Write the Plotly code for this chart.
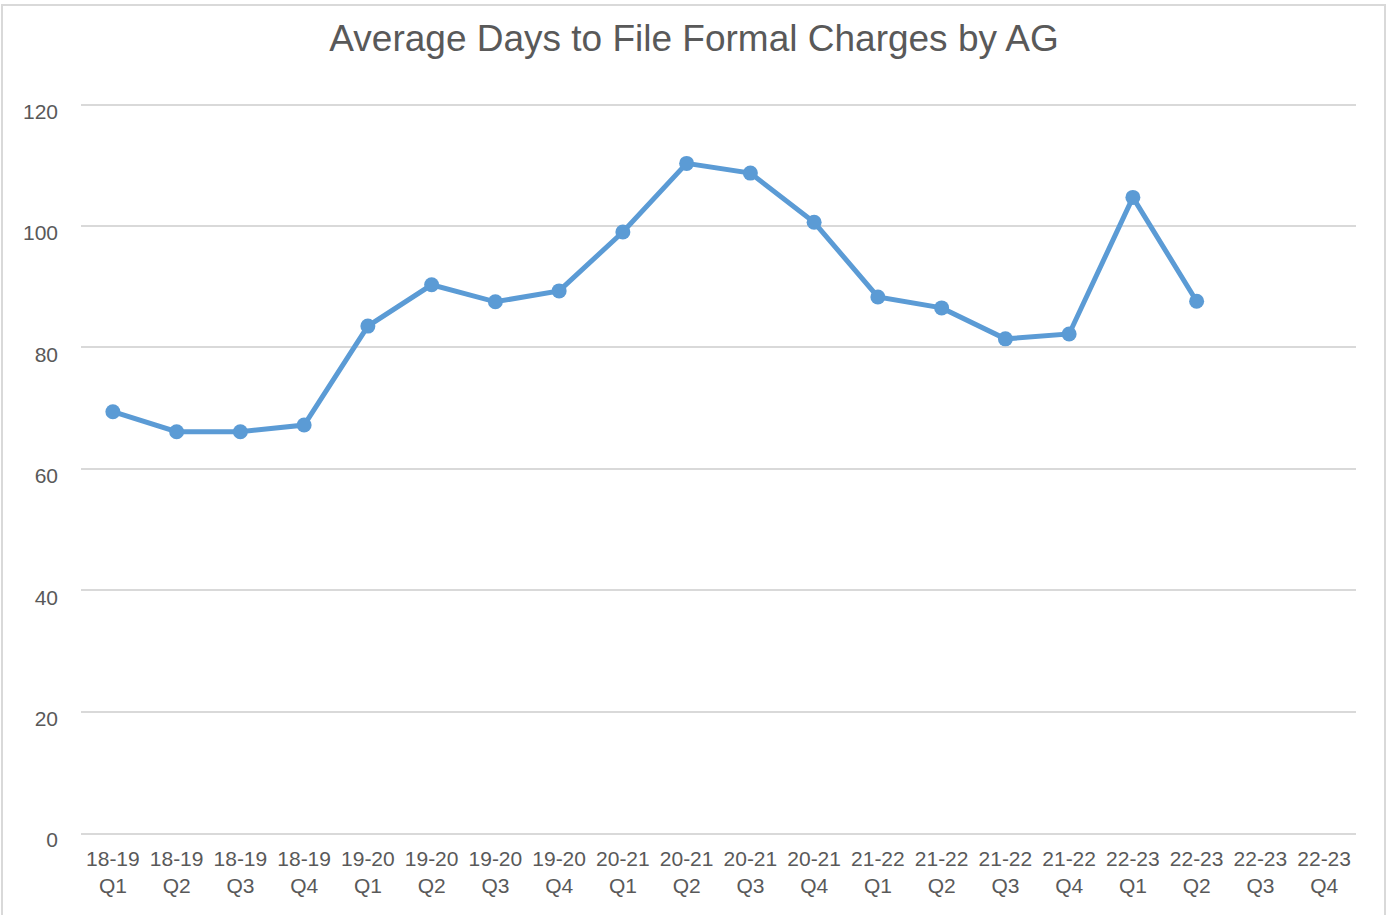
import plotly.graph_objects as go

years = ["18-19", "18-19", "18-19", "18-19",
         "19-20", "19-20", "19-20", "19-20",
         "20-21", "20-21", "20-21", "20-21",
         "21-22", "21-22", "21-22", "21-22",
         "22-23", "22-23", "22-23", "22-23"]
quarters = ["Q1", "Q2", "Q3", "Q4"] * 5
categories = [f"{y}<br>{q}" for y, q in zip(years, quarters)]

avg_days = [69.4, 66.1, 66.1, 67.2,
            83.5, 90.3, 87.5, 89.3,
            99.0, 110.3, 108.7, 100.6,
            88.3, 86.5, 81.4, 82.2,
            104.7, 87.6, None, None]

y_ticks = [0, 20, 40, 60, 80, 100, 120]

FONT = "Liberation Sans, Arial, sans-serif"
GREY_TXT = "#595959"
BLUE = "#5B9BD5"

W, H = 1388, 915
L, R, T, B = 81, 32, 103, 82
PW, PH = W - L - R, H - T - B

fig = go.Figure()
fig.add_trace(go.Scatter(
    x=list(range(len(categories))),
    y=avg_days,
    mode="lines+markers",
    line=dict(color=BLUE, width=5),
    marker=dict(color=BLUE, size=15),
    connectgaps=False,
    showlegend=False,
))

fig.update_layout(
    width=W, height=H, autosize=False,
    paper_bgcolor="white", plot_bgcolor="white",
    margin=dict(l=L, r=R, t=T, b=B),
    font=dict(family=FONT, color=GREY_TXT),
    title=dict(
        text="Average Days to File Formal Charges by AG",
        x=0.5, xref="container", xanchor="center",
        y=1 - 38 / H, yref="container", yanchor="middle",
        font=dict(size=37, color=GREY_TXT, family=FONT),
    ),
    xaxis=dict(
        tickmode="array",
        tickvals=list(range(len(categories))),
        ticktext=categories,
        range=[-0.5, len(categories) - 0.5],
        showgrid=False, zeroline=False,
        showline=True, linecolor="#D9D9D9", linewidth=1.5,
        ticks="", tickangle=0,
        tickfont=dict(size=21, color=GREY_TXT, family=FONT),
        ticklabelstandoff=6,
    ),
    yaxis=dict(
        range=[0, 120.25],
        tickmode="array", tickvals=y_ticks,
        showgrid=True, gridcolor="#D9D9D9", gridwidth=1.5,
        zeroline=False, showline=False, ticks="",
        tickfont=dict(size=21, color=GREY_TXT, family=FONT),
        ticklabelstandoff=22,
        ticklabelshift=7,
    ),
    shapes=[dict(
        type="rect", xref="paper", yref="paper",
        x0=(2 - L) / PW, x1=(1385 - L) / PW,
        y0=(H - B - (H + 10)) / PH, y1=(H - B - 5) / PH,
        line=dict(color="#D9D9D9", width=2),
        fillcolor="rgba(0,0,0,0)", layer="below",
    )],
)

fig.write_html("out.html",
               config={"displayModeBar": False},
               post_script="document.body.style.margin='0';document.body.style.overflow='hidden';")
